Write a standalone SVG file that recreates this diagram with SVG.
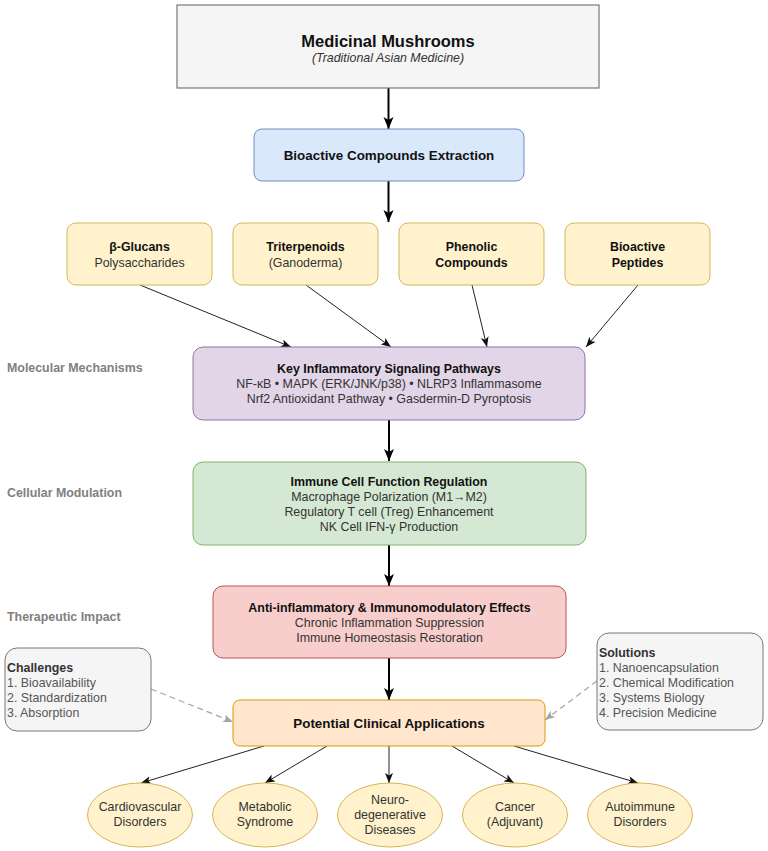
<svg xmlns="http://www.w3.org/2000/svg" width="768" height="851" viewBox="0 0 768 851">
<style>
text{font-family:"Liberation Sans",Arial,sans-serif;font-size:12.4px;fill:#333333;text-anchor:middle}
.b{font-weight:bold;fill:#111111}
.lab{font-weight:bold;fill:#808080;text-anchor:start}
.note{text-anchor:start;fill:#555555}
.noteb{text-anchor:start;font-weight:bold;fill:#333333}
.main{stroke:#000;stroke-width:2;fill:none}
.thin{stroke:#222;stroke-width:1;fill:none}
.dash{stroke:#a6a6a6;stroke-width:1.2;stroke-dasharray:6 4;fill:none}
.yel{fill:#fff2cc;stroke:#d6b656;stroke-width:1}
</style>
<defs>
<marker id="am" markerUnits="userSpaceOnUse" viewBox="0 0 12 12" refX="12" refY="6" markerWidth="12" markerHeight="12" orient="auto"><path d="M0,1 L12,6 L0,11 L3,6 z" fill="#000"/></marker>
<marker id="at" markerUnits="userSpaceOnUse" viewBox="0 0 10 8" refX="10" refY="4" markerWidth="10" markerHeight="8" orient="auto"><path d="M0,0 L10,4 L0,8 L2.5,4 z" fill="#111"/></marker>
<marker id="ad" markerUnits="userSpaceOnUse" viewBox="0 0 10 8" refX="10" refY="4" markerWidth="10" markerHeight="8" orient="auto"><path d="M0,0 L10,4 L0,8 L2.5,4 z" fill="#a6a6a6"/></marker>
</defs>

<g id="connectors">
<line class="main" x1="388.5" y1="88" x2="388.5" y2="129" marker-end="url(#am)"/>
<line class="main" x1="388.5" y1="181" x2="388.5" y2="222" marker-end="url(#am)"/>
<line class="thin" x1="140" y1="285" x2="291" y2="347" marker-end="url(#at)"/>
<line class="thin" x1="306" y1="285" x2="391" y2="347" marker-end="url(#at)"/>
<line class="thin" x1="472" y1="285" x2="487" y2="347" marker-end="url(#at)"/>
<line class="thin" x1="638" y1="285" x2="586" y2="347" marker-end="url(#at)"/>
<line class="main" x1="389" y1="420" x2="389" y2="461" marker-end="url(#am)"/>
<line class="main" x1="389" y1="545" x2="389" y2="586" marker-end="url(#am)"/>
<line class="main" x1="389" y1="658" x2="389" y2="700" marker-end="url(#am)"/>
<line class="dash" x1="151" y1="689" x2="233" y2="722" marker-end="url(#ad)"/>
<line class="dash" x1="597" y1="681" x2="545" y2="720" marker-end="url(#ad)"/>
<line class="thin" x1="264" y1="746" x2="141" y2="783" marker-end="url(#at)"/>
<line class="thin" x1="327" y1="746" x2="265" y2="783" marker-end="url(#at)"/>
<line class="thin" x1="389" y1="746" x2="389" y2="783" marker-end="url(#at)"/>
<line class="thin" x1="452" y1="746" x2="514" y2="783" marker-end="url(#at)"/>
<line class="thin" x1="514" y1="746" x2="638" y2="783" marker-end="url(#at)"/>
</g>

<g id="labels">
<text class="lab" x="7" y="372">Molecular Mechanisms</text>
<text class="lab" x="7" y="497">Cellular Modulation</text>
<text class="lab" x="7" y="621">Therapeutic Impact</text>
</g>

<g id="mushrooms">
<rect x="177" y="5" width="422" height="83" fill="#f5f5f5" stroke="#777777" stroke-width="1.2"/>
<text class="b" x="388" y="47" style="font-size:16.5px">Medicinal Mushrooms</text>
<text x="388" y="62" style="font-style:italic">(Traditional Asian Medicine)</text>
</g>

<g id="extraction">
<rect x="254" y="129" width="270" height="52" rx="8" fill="#dae8fc" stroke="#6c8ebf"/>
<text class="b" x="389" y="160" style="font-size:13.4px">Bioactive Compounds Extraction</text>
</g>

<g id="glucans">
<rect class="yel" x="67" y="223" width="145" height="62" rx="9"/>
<text class="b" x="139.5" y="251">β-Glucans</text>
<text x="139.5" y="267">Polysaccharides</text>
</g>
<g id="triterpenoids">
<rect class="yel" x="233" y="223" width="145" height="62" rx="9"/>
<text class="b" x="305.5" y="251">Triterpenoids</text>
<text x="305.5" y="267">(Ganoderma)</text>
</g>
<g id="phenolic">
<rect class="yel" x="399" y="223" width="145" height="62" rx="9"/>
<text class="b" x="471.5" y="251">Phenolic</text>
<text class="b" x="471.5" y="267">Compounds</text>
</g>
<g id="peptides">
<rect class="yel" x="565" y="223" width="145" height="62" rx="9"/>
<text class="b" x="637.5" y="251">Bioactive</text>
<text class="b" x="637.5" y="267">Peptides</text>
</g>

<g id="pathways">
<rect x="193" y="347" width="392" height="73" rx="10" fill="#e1d5e7" stroke="#9673a6"/>
<text class="b" x="389" y="373">Key Inflammatory Signaling Pathways</text>
<text x="389" y="388">NF-κB • MAPK (ERK/JNK/p38) • NLRP3 Inflammasome</text>
<text x="389" y="403">Nrf2 Antioxidant Pathway • Gasdermin-D Pyroptosis</text>
</g>

<g id="immune">
<rect x="193" y="462" width="393" height="83" rx="10" fill="#d5e8d4" stroke="#82b366"/>
<text class="b" x="389" y="486">Immune Cell Function Regulation</text>
<text x="389" y="501">Macrophage Polarization (M1→M2)</text>
<text x="389" y="516">Regulatory T cell (Treg) Enhancement</text>
<text x="389" y="531">NK Cell IFN-γ Production</text>
</g>

<g id="effects">
<rect x="213" y="586" width="353" height="72" rx="10" fill="#f8cecc" stroke="#b85450"/>
<text class="b" x="389.5" y="612">Anti-inflammatory &amp; Immunomodulatory Effects</text>
<text x="389.5" y="627">Chronic Inflammation Suppression</text>
<text x="389.5" y="642">Immune Homeostasis Restoration</text>
</g>

<g id="challenges">
<rect x="5" y="648" width="146" height="83" rx="12" fill="#f5f5f5" stroke="#777777"/>
<text class="noteb" x="7" y="672">Challenges</text>
<text class="note" x="7" y="687">1. Bioavailability</text>
<text class="note" x="7" y="702">2. Standardization</text>
<text class="note" x="7" y="717">3. Absorption</text>
</g>

<g id="solutions">
<rect x="597" y="633" width="166" height="97" rx="12" fill="#f5f5f5" stroke="#777777"/>
<text class="noteb" x="599" y="657">Solutions</text>
<text class="note" x="599" y="672">1. Nanoencapsulation</text>
<text class="note" x="599" y="687">2. Chemical Modification</text>
<text class="note" x="599" y="702">3. Systems Biology</text>
<text class="note" x="599" y="717">4. Precision Medicine</text>
</g>

<g id="applications">
<rect x="233" y="700" width="312" height="46" rx="7" fill="#ffe6cc" stroke="#d79b00"/>
<text class="b" x="389" y="728" style="font-size:13.4px">Potential Clinical Applications</text>
</g>

<g id="cardio">
<ellipse class="yel" cx="140" cy="815" rx="52.5" ry="32"/>
<text x="140" y="811">Cardiovascular</text>
<text x="140" y="826">Disorders</text>
</g>
<g id="metabolic">
<ellipse class="yel" cx="265" cy="815" rx="52.5" ry="32"/>
<text x="265" y="811">Metabolic</text>
<text x="265" y="826">Syndrome</text>
</g>
<g id="neuro">
<ellipse class="yel" cx="390" cy="815" rx="52.5" ry="32"/>
<text x="390" y="804">Neuro-</text>
<text x="390" y="819">degenerative</text>
<text x="390" y="834">Diseases</text>
</g>
<g id="cancer">
<ellipse class="yel" cx="515" cy="815" rx="52.5" ry="32"/>
<text x="515" y="811">Cancer</text>
<text x="515" y="826">(Adjuvant)</text>
</g>
<g id="autoimmune">
<ellipse class="yel" cx="640" cy="815" rx="52.5" ry="32"/>
<text x="640" y="811">Autoimmune</text>
<text x="640" y="826">Disorders</text>
</g>
</svg>
